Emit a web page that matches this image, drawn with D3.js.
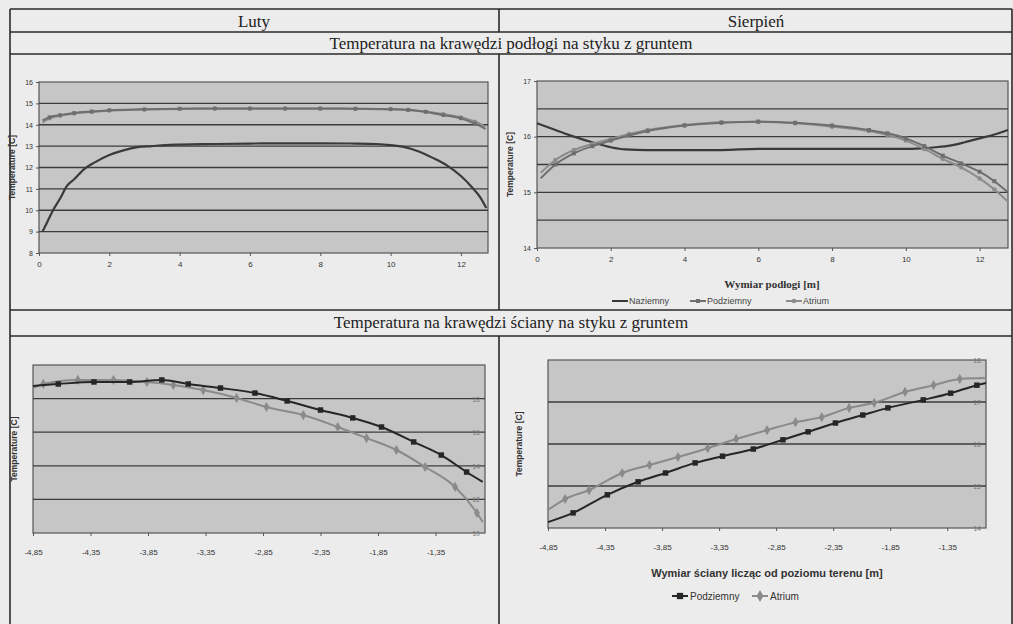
<!DOCTYPE html>
<html>
<head>
<meta charset="utf-8">
<script src="https://cdn.jsdelivr.net/npm/d3@7"></script>
<style>
  body { margin: 0; background: #ececec; }
  text { font-family: 'Liberation Sans', Arial, sans-serif; }
  .serif { font-family: 'Liberation Serif', 'Times New Roman', serif; }
</style>
</head>
<body>
<svg id="fig" width="1013" height="624"></svg>
<script>
// ---- data: luty (February), floor edge ----
const febFloorNazX = [0.1, 0.25, 0.4, 0.6, 0.8, 1.0, 1.3, 1.6, 2.0, 2.4, 2.8, 3.2, 3.6, 4, 5, 6, 7, 8, 9, 9.6, 10.0, 10.4, 10.8, 11.2, 11.6, 12.0, 12.3, 12.55, 12.72];
const febFloorNazY = [9.0, 9.5, 10.0, 10.55, 11.15, 11.45, 11.95, 12.25, 12.58, 12.8, 12.95, 13.0, 13.05, 13.07, 13.1, 13.12, 13.13, 13.13, 13.12, 13.1, 13.05, 12.95, 12.75, 12.45, 12.1, 11.6, 11.1, 10.6, 10.1];
const febFloorX = [0.1, 0.3, 0.6, 1.0, 1.5, 2.0, 3.0, 4.0, 5.0, 6.0, 7.0, 8.0, 9.0, 10.0, 10.5, 11.0, 11.5, 12.0, 12.4, 12.7];
const febFloorPodY = [14.2, 14.35, 14.45, 14.55, 14.62, 14.68, 14.72, 14.75, 14.76, 14.76, 14.76, 14.76, 14.75, 14.73, 14.7, 14.6, 14.45, 14.3, 14.05, 13.8];
const febFloorAtrY = [14.1, 14.3, 14.42, 14.52, 14.6, 14.66, 14.71, 14.74, 14.75, 14.75, 14.75, 14.75, 14.74, 14.72, 14.68, 14.62, 14.5, 14.35, 14.15, 13.9];

// ---- data: sierpien (August), floor edge ----
const augFloorNazX = [0, 0.5, 1.0, 1.5, 2.0, 2.4, 3, 4, 5, 6, 7, 8, 9, 10, 10.4, 10.8, 11.2, 11.6, 12.0, 12.4, 12.77];
const augFloorNazY = [16.24, 16.12, 16.0, 15.9, 15.81, 15.77, 15.76, 15.76, 15.76, 15.78, 15.78, 15.78, 15.78, 15.78, 15.79, 15.81, 15.84, 15.9, 15.97, 16.04, 16.12];
const augFloorX = [0.1, 0.5, 1, 1.5, 2, 2.5, 3, 4, 5, 6, 7, 8, 9, 9.5, 10, 10.5, 11, 11.5, 12, 12.4, 12.77];
const augFloorPodY = [15.25, 15.5, 15.7, 15.83, 15.93, 16.02, 16.1, 16.2, 16.25, 16.27, 16.25, 16.2, 16.12, 16.06, 15.97, 15.83, 15.66, 15.52, 15.37, 15.2, 15.0];
const augFloorAtrY = [15.35, 15.58, 15.76, 15.87, 15.96, 16.05, 16.12, 16.21, 16.26, 16.27, 16.24, 16.18, 16.1, 16.03, 15.93, 15.78, 15.6, 15.45, 15.25, 15.05, 14.83];

// ---- data: wall edge (depth below ground level) ----
const febWallPodX = [-4.85, -4.63, -4.32, -4.01, -3.73, -3.50, -3.22, -2.92, -2.64, -2.35, -2.07, -1.82, -1.54, -1.30, -1.08, -0.94];
const febWallPodY = [18.75, 18.87, 18.99, 18.99, 19.11, 18.87, 18.63, 18.33, 17.86, 17.32, 16.85, 16.31, 15.42, 14.64, 13.63, 13.04];
const febWallAtrX = [-4.85, -4.76, -4.46, -4.15, -3.86, -3.63, -3.37, -3.08, -2.82, -2.50, -2.20, -1.95, -1.69, -1.44, -1.18, -0.99, -0.94];
const febWallAtrY = [18.63, 18.87, 19.11, 19.11, 18.99, 18.81, 18.51, 18.04, 17.5, 17.02, 16.31, 15.65, 14.94, 13.93, 12.74, 11.19, 10.65];

const augWallPodX = [-4.85, -4.63, -4.33, -4.06, -3.82, -3.56, -3.32, -3.05, -2.79, -2.57, -2.33, -2.09, -1.87, -1.56, -1.32, -1.09, -1.01];
const augWallPodY = [14.14, 14.36, 14.79, 15.1, 15.31, 15.55, 15.71, 15.88, 16.1, 16.29, 16.5, 16.69, 16.86, 17.05, 17.21, 17.4, 17.45];
const augWallAtrX = [-4.85, -4.70, -4.49, -4.20, -3.96, -3.71, -3.45, -3.20, -2.93, -2.68, -2.45, -2.21, -1.99, -1.72, -1.47, -1.24, -1.01];
const augWallAtrY = [14.43, 14.69, 14.9, 15.31, 15.5, 15.69, 15.9, 16.12, 16.33, 16.52, 16.64, 16.86, 16.98, 17.24, 17.4, 17.55, 17.57];

// ---- tick labels ----
const floorTicksX = [0, 2, 4, 6, 8, 10, 12];
const febFloorTicksY = [8, 9, 10, 11, 12, 13, 14, 15, 16];
const augFloorTicksY = [14, 15, 16, 17];
const augFloorGridY = [14.5, 15, 15.5, 16, 16.5];
const wallTicksX = [-4.85, -4.35, -3.85, -3.35, -2.85, -2.35, -1.85, -1.35];
const febWallTicksY = [10, 12, 14, 16, 18, 20];
const augWallTicksY = [14, 15, 16, 17, 18];

const svg = d3.select('#fig');
const comma = d => String(d).replace('.', ',');

function chart(o) {
  const g = svg.append('g').attr('transform', `translate(${o.left},${o.top})`);
  const x = d3.scaleLinear().domain(o.xDomain).range([0, o.width]);
  const y = d3.scaleLinear().domain(o.yDomain).range([o.height, 0]);

  g.append('rect')
    .attr('width', o.width)
    .attr('height', o.height)
    .attr('fill', '#c6c6c6')
    .attr('stroke', '#555')
    .attr('stroke-width', 1.2);

  g.selectAll('line.grid')
    .data(o.grid)
    .enter()
    .append('line')
    .attr('class', 'grid')
    .attr('x1', 0)
    .attr('x2', o.width)
    .attr('y1', d => y(d))
    .attr('y2', d => y(d))
    .attr('stroke', '#3c3c3c')
    .attr('stroke-width', 1.3);

  // x axis ticks + labels
  const xa = g.append('g').attr('transform', `translate(0,${o.height})`)
    .call(d3.axisBottom(x).tickValues(o.xTicks).tickSize(3).tickFormat(o.xFormat || (d => d)));
  xa.select('.domain').remove();
  xa.selectAll('line').attr('stroke', '#555');
  xa.selectAll('text')
    .attr('dy', 0)
    .attr('y', o.xLabelDy || 14)
    .attr('fill', '#333')
    .attr('font-size', 8)
    .attr('font-family', 'Liberation Sans Narrow, Liberation Sans, sans-serif');

  // y labels
  if (o.yInside) {
    g.selectAll('text.yl')
      .data(o.yTicks)
      .enter()
      .append('text')
      .attr('class', 'yl')
      .attr('x', o.width - 5)
      .attr('y', d => y(d) + 3)
      .attr('text-anchor', 'end')
      .attr('font-size', 7)
      .attr('fill', '#777')
      .text(d => d);
  } else {
    const ya = g.append('g')
      .call(d3.axisLeft(y).tickValues(o.yTicks).tickSize(3).tickFormat(d => d));
    ya.select('.domain').remove();
    ya.selectAll('line').attr('stroke', '#555');
    ya.selectAll('text')
      .attr('fill', '#333')
      .attr('font-size', 7);
  }

  g.append('text')
    .attr('transform', `translate(${o.yTitleX},${o.height / 2}) rotate(-90)`)
    .attr('text-anchor', 'middle')
    .attr('font-size', 8.5)
    .attr('font-weight', 'bold')
    .attr('fill', '#333')
    .text('Temperature [C]');

  const line = d3.line().x(d => x(d[0])).y(d => y(d[1])).curve(d3.curveMonotoneX);
  o.series.forEach((s) => {
    const pts = s.x.map((v, i) => [v, s.y[i]]);
    g.append('path')
      .datum(pts)
      .attr('fill', 'none')
      .attr('stroke', s.color)
      .attr('stroke-width', s.width || 2)
      .attr('d', line);
    if (s.marker) {
      const sym = d3.symbol().type(s.marker).size(s.size || 22);
      g.selectAll(null)
        .data(pts.slice(1, -1))
        .enter()
        .append('path')
        .attr('transform', d => `translate(${x(d[0])},${y(d[1])})`)
        .attr('d', sym)
        .attr('fill', s.color);
    }
  });
  return { g, x, y };
}

// ---- table frame ----
const frame = svg.append('g').attr('stroke', '#2a2a2a').attr('stroke-width', 1.6);
[9, 32, 54, 310, 336].forEach((yy) => {
  frame.append('line').attr('x1', 10).attr('x2', 1012).attr('y1', yy).attr('y2', yy);
});
frame.append('line').attr('x1', 10).attr('x2', 10).attr('y1', 9).attr('y2', 624);
frame.append('line').attr('x1', 1012).attr('x2', 1012).attr('y1', 9).attr('y2', 624);
frame.append('line').attr('x1', 499).attr('x2', 499).attr('y1', 9).attr('y2', 32);
frame.append('line').attr('x1', 499).attr('x2', 499).attr('y1', 54).attr('y2', 310);
frame.append('line').attr('x1', 499).attr('x2', 499).attr('y1', 336).attr('y2', 624);

const head = svg.append('g').attr('class', 'serif').attr('font-size', 17).attr('fill', '#222').attr('text-anchor', 'middle');
head.append('text').attr('class', 'serif').attr('x', 254).attr('y', 27).text('Luty');
head.append('text').attr('class', 'serif').attr('x', 756).attr('y', 27).text('Sierpień');
head.append('text').attr('class', 'serif').attr('x', 511).attr('y', 49).text('Temperatura na krawędzi podłogi na styku z gruntem');
head.append('text').attr('class', 'serif').attr('x', 511).attr('y', 328).text('Temperatura na krawędzi ściany na styku z gruntem');

// ---- top left: luty, floor ----
chart({
  left: 39, top: 82, width: 449, height: 171,
  xDomain: [0, 12.77], yDomain: [8, 16],
  xTicks: floorTicksX, yTicks: febFloorTicksY, grid: febFloorTicksY.slice(1, -1),
  yTitleX: -24,
  series: [
    { x: febFloorNazX, y: febFloorNazY, color: '#3a3a3a', width: 2.2 },
    { x: febFloorX, y: febFloorAtrY, color: '#8c8c8c', marker: d3.symbolCircle, size: 14 },
    { x: febFloorX, y: febFloorPodY, color: '#6e6e6e', marker: d3.symbolSquare, size: 14 },
  ],
});

// ---- top right: sierpien, floor ----
chart({
  left: 537, top: 81, width: 471, height: 167,
  xDomain: [0, 12.77], yDomain: [14, 17],
  xTicks: floorTicksX, yTicks: augFloorTicksY, grid: augFloorGridY,
  yTitleX: -24,
  series: [
    { x: augFloorNazX, y: augFloorNazY, color: '#3a3a3a', width: 2.2 },
    { x: augFloorX, y: augFloorAtrY, color: '#8c8c8c', marker: d3.symbolCircle, size: 16 },
    { x: augFloorX, y: augFloorPodY, color: '#6e6e6e', marker: d3.symbolSquare, size: 16 },
  ],
});

svg.append('text')
  .attr('class', 'serif')
  .attr('x', 772).attr('y', 288)
  .attr('text-anchor', 'middle')
  .attr('font-size', 11)
  .attr('font-weight', 'bold')
  .attr('fill', '#333')
  .text('Wymiar podłogi [m]');

// legend top
const leg1 = svg.append('g').attr('font-size', 9).attr('fill', '#444');
const leg1Items = [
  { label: 'Naziemny', color: '#3a3a3a', marker: null, x: 612 },
  { label: 'Podziemny', color: '#6e6e6e', marker: d3.symbolSquare, x: 690 },
  { label: 'Atrium', color: '#8c8c8c', marker: d3.symbolCircle, x: 786 },
];
leg1Items.forEach((it) => {
  leg1.append('line').attr('x1', it.x).attr('x2', it.x + 16).attr('y1', 301).attr('y2', 301)
    .attr('stroke', it.color).attr('stroke-width', 2);
  if (it.marker) {
    leg1.append('path').attr('transform', `translate(${it.x + 8},301)`)
      .attr('d', d3.symbol().type(it.marker).size(16)).attr('fill', it.color);
  }
  leg1.append('text').attr('x', it.x + 17).attr('y', 304).text(it.label);
});

// ---- bottom left: luty, wall ----
chart({
  left: 33, top: 365, width: 452, height: 168,
  xDomain: [-4.85, -0.92], yDomain: [10, 20],
  xTicks: wallTicksX, yTicks: febWallTicksY.slice(0, -1), grid: febWallTicksY.slice(1, -1),
  xFormat: comma, xLabelDy: 22, yInside: true,
  yTitleX: -16,
  series: [
    { x: febWallAtrX, y: febWallAtrY, color: '#8a8a8a', marker: d3.symbolDiamond, size: 30 },
    { x: febWallPodX, y: febWallPodY, color: '#262626', marker: d3.symbolSquare, size: 30 },
  ],
});

// ---- bottom right: sierpien, wall ----
chart({
  left: 548, top: 360, width: 438, height: 168,
  xDomain: [-4.85, -1.01], yDomain: [14, 18],
  xTicks: wallTicksX, yTicks: augWallTicksY, grid: augWallTicksY.slice(1, -1),
  xFormat: comma, xLabelDy: 22, yInside: true,
  yTitleX: -26,
  series: [
    { x: augWallAtrX, y: augWallAtrY, color: '#8a8a8a', marker: d3.symbolDiamond, size: 30 },
    { x: augWallPodX, y: augWallPodY, color: '#262626', marker: d3.symbolSquare, size: 30 },
  ],
});

svg.append('text')
  .attr('x', 767).attr('y', 577)
  .attr('text-anchor', 'middle')
  .attr('font-size', 11)
  .attr('font-weight', 'bold')
  .attr('fill', '#333')
  .attr('font-family', 'Liberation Sans Narrow, Liberation Sans, sans-serif')
  .text('Wymiar ściany licząc od poziomu terenu [m]');

const leg2 = svg.append('g').attr('font-size', 10).attr('fill', '#333')
  .attr('font-family', 'Liberation Sans Narrow, Liberation Sans, sans-serif');
const leg2Items = [
  { label: 'Podziemny', color: '#262626', marker: d3.symbolSquare, x: 672 },
  { label: 'Atrium', color: '#8a8a8a', marker: d3.symbolDiamond, x: 752 },
];
leg2Items.forEach((it) => {
  leg2.append('line').attr('x1', it.x).attr('x2', it.x + 16).attr('y1', 596).attr('y2', 596)
    .attr('stroke', it.color).attr('stroke-width', 2);
  leg2.append('path').attr('transform', `translate(${it.x + 8},596)`)
    .attr('d', d3.symbol().type(it.marker).size(40)).attr('fill', it.color);
  leg2.append('text').attr('x', it.x + 18).attr('y', 600).text(it.label);
});
</script>
</body>
</html>
